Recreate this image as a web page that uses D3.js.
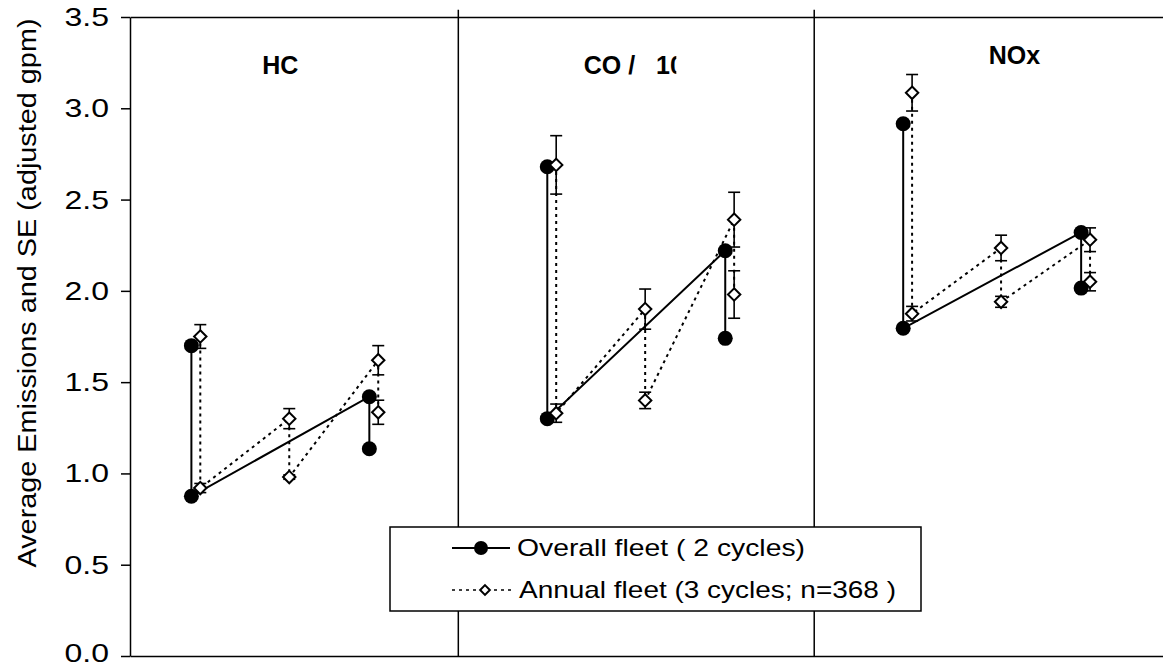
<!DOCTYPE html>
<html>
<head>
<meta charset="utf-8">
<script src="https://cdn.jsdelivr.net/npm/d3@7"></script>
<style>
  body { margin: 0; background: #fff; }
  svg { display: block; font-family: "Liberation Sans", Arial, sans-serif; }
</style>
</head>
<body>
<script>
'use strict';

// panels, and the cycle positions used inside each panel
const panels = ["HC", "CO /   10", "NOx"];
const annualCycles = [1, 2, 3];
const overallCycles = [1, 3];

// overall fleet (2 cycles): upper and lower value at cycle 1 and cycle 3
const overallHigh = [[1.70, 1.42], [2.68, 2.22], [2.915, 2.32]];
const overallLow = [[0.875, 1.135], [1.30, 1.74], [1.795, 2.015]];

// annual fleet (3 cycles; n=368): upper / lower value and SE at each cycle
const annualHigh = [[1.75, 1.30, 1.62], [2.69, 1.90, 2.39], [3.085, 2.235, 2.28]];
const annualHighSE = [[0.065, 0.055, 0.08], [0.16, 0.11, 0.15], [0.10, 0.07, 0.065]];
const annualLow = [[0.92, 0.98, 1.335], [1.33, 1.40, 1.98], [1.875, 1.94, 2.05]];
const annualLowSE = [[0.025, 0.012, 0.066], [0.05, 0.045, 0.13], [0.04, 0.03, 0.05]];

const yTicks = [0, 0.5, 1.0, 1.5, 2.0, 2.5, 3.0, 3.5];
const yTitle = "Average Emissions and SE (adjusted gpm)";
const legendLabels = ["Overall fleet ( 2 cycles)", "Annual fleet (3 cycles; n=368 )"];

// each panel is 4 cycle units wide, overall fleet drawn slightly left
const panelWidth = 4;
const overallShift = -0.1;
const dividers = [panelWidth - 0.1, 2 * panelWidth - 0.1];
// panel name placement in axis units (CO name is cut off in the original)
const titleX = [1.9, 5.31, 10.15];
const titleY = [3.19, 3.19, 3.24];
const titleAnchor = ["middle", "start", "middle"];

window.onload = function() {
  const svg = d3.select('body').append('svg')
    .attr('width', 1163)
    .attr('height', 668);

  const xScale = d3.scaleLinear().domain([0.21, 11.82]).range([130, 1163]);
  const yScale = d3.scaleLinear().domain([0, 3.5]).range([656, 17]);

  drawFrame(svg, xScale, yScale);
  plotOverall(svg, xScale, yScale);
  plotAnnual(svg, xScale, yScale);
  makeLegend(svg);
};

// axes, panel dividers and panel names
function drawFrame(svg, xScale, yScale) {
  // panel dividers
  svg.selectAll('line.divider')
    .data(dividers)
    .enter()
    .append('line')
    .attr('class', 'divider')
    .attr('x1', d => xScale(d))
    .attr('x2', d => xScale(d))
    .attr('y1', yScale(3.54))
    .attr('y2', yScale(0))
    .style('stroke', '#000')
    .style('stroke-width', 1.5);

  // y axis
  let yAxis = svg.append('g')
    .attr('transform', 'translate(' + xScale.range()[0] + ',0)')
    .call(d3.axisLeft(yScale).tickValues(yTicks).tickSize(9).tickSizeOuter(0).tickFormat(d3.format('.1f')));
  yAxis.select('.domain').style('stroke-width', 1.5);
  yAxis.selectAll('.tick line').style('stroke-width', 1.5);
  yAxis.selectAll('.tick text')
    .attr('x', 0)
    .attr('dy', d => d === 0 ? '0.2em' : '0.34em')
    .attr('transform', 'translate(-21,0) scale(1.28,1)')
    .style('font-size', '25px')
    .style('font-family', '"Liberation Sans", Arial, sans-serif')
    .style('fill', '#000');

  // bottom and top frame lines
  [0, 3.5].forEach(v => {
    let g = svg.append('g')
      .attr('transform', 'translate(0,' + yScale(v) + ')')
      .call(d3.axisBottom(xScale).tickValues([]).tickSizeOuter(0));
    g.select('.domain').style('stroke-width', 1.5);
  });

  // y axis title
  svg.append('text')
    .attr('transform', 'translate(36,' + 293 + ') rotate(-90)')
    .attr('text-anchor', 'middle')
    .attr('textLength', 549)
    .attr('lengthAdjust', 'spacingAndGlyphs')
    .style('font-size', '25px')
    .text(yTitle);

  // panel names, the CO one clipped at the right like the original text box
  svg.append('clipPath')
    .attr('id', 'titleClip')
    .append('rect')
    .attr('x', xScale(4))
    .attr('y', 0)
    .attr('width', xScale(6.35) - xScale(4))
    .attr('height', yScale(2.5));

  svg.selectAll('g.panel')
    .data(panels)
    .enter()
    .append('g')
    .attr('class', 'panel')
    .attr('clip-path', (d, i) => i === 1 ? 'url(#titleClip)' : null)
    .append('text')
    .attr('x', (d, i) => xScale(titleX[i]))
    .attr('y', (d, i) => yScale(titleY[i]))
    .attr('text-anchor', (d, i) => titleAnchor[i])
    .style('font-size', '25px')
    .style('font-weight', 'bold')
    .style('white-space', 'pre')
    .text(d => d);
}

function overallPoints(p) {
  let pts = [];
  overallCycles.forEach((c, j) => {
    let x = panelWidth * p + c + overallShift;
    pts.push({ x: x, y: overallHigh[p][j] });
    pts.push({ x: x, y: overallLow[p][j] });
  });
  return pts;
}

function annualPoints(p) {
  let pts = [];
  annualCycles.forEach((c, j) => {
    let x = panelWidth * p + c;
    pts.push({ x: x, y: annualHigh[p][j], se: annualHighSE[p][j] });
    pts.push({ x: x, y: annualLow[p][j], se: annualLowSE[p][j] });
  });
  return pts;
}

// overall fleet: solid zigzag with filled circles
function plotOverall(svg, xScale, yScale) {
  let line = d3.line().x(d => xScale(d.x)).y(d => yScale(d.y));
  panels.forEach((name, p) => {
    let pts = overallPoints(p);
    svg.append('path')
      .datum(pts)
      .attr('d', line)
      .style('fill', 'none')
      .style('stroke', '#000')
      .style('stroke-width', 2);

    svg.selectAll('circle.overall' + p)
      .data(pts)
      .enter()
      .append('circle')
      .attr('class', 'overall' + p)
      .attr('cx', d => xScale(d.x))
      .attr('cy', d => yScale(d.y))
      .attr('r', 7.5)
      .style('fill', '#000');
  });
}

// annual fleet: dotted zigzag, SE bars and open diamonds
function plotAnnual(svg, xScale, yScale) {
  let line = d3.line().x(d => xScale(d.x)).y(d => yScale(d.y));
  let diamond = d3.symbol().type(d3.symbolDiamond2).size(98);
  panels.forEach((name, p) => {
    let pts = annualPoints(p);
    svg.append('path')
      .datum(pts)
      .attr('d', line)
      .style('fill', 'none')
      .style('stroke', '#000')
      .style('stroke-width', 2)
      .style('stroke-dasharray', '3,4');

    let bars = svg.selectAll('g.se' + p)
      .data(pts)
      .enter()
      .append('g')
      .attr('class', 'se' + p)
      .style('stroke', '#000')
      .style('stroke-width', 1.6);
    bars.append('line')
      .attr('x1', d => xScale(d.x)).attr('x2', d => xScale(d.x))
      .attr('y1', d => yScale(d.y + d.se)).attr('y2', d => yScale(d.y - d.se));
    bars.append('line')
      .attr('x1', d => xScale(d.x) - 6).attr('x2', d => xScale(d.x) + 6)
      .attr('y1', d => yScale(d.y + d.se)).attr('y2', d => yScale(d.y + d.se));
    bars.append('line')
      .attr('x1', d => xScale(d.x) - 6).attr('x2', d => xScale(d.x) + 6)
      .attr('y1', d => yScale(d.y - d.se)).attr('y2', d => yScale(d.y - d.se));

    svg.selectAll('path.annual' + p)
      .data(pts)
      .enter()
      .append('path')
      .attr('class', 'annual' + p)
      .attr('d', diamond)
      .attr('transform', d => 'translate(' + xScale(d.x) + ',' + yScale(d.y) + ')')
      .style('fill', '#fff')
      .style('stroke', '#000')
      .style('stroke-width', 2);
  });
}

function makeLegend(svg) {
  svg.append('rect')
    .attr('x', 390)
    .attr('y', 527)
    .attr('width', 531)
    .attr('height', 84)
    .style('fill', '#fff')
    .style('stroke', '#000')
    .style('stroke-width', 1.5);

  // overall fleet sample
  svg.append('line')
    .attr('x1', 452).attr('x2', 510)
    .attr('y1', 548).attr('y2', 548)
    .style('stroke', '#000')
    .style('stroke-width', 2);
  svg.append('circle')
    .attr('cx', 481).attr('cy', 548).attr('r', 7)
    .style('fill', '#000');

  // annual fleet sample
  svg.append('line')
    .attr('x1', 452).attr('x2', 512)
    .attr('y1', 590).attr('y2', 590)
    .style('stroke', '#000')
    .style('stroke-width', 1.5)
    .style('stroke-dasharray', '3,4');
  svg.append('path')
    .attr('d', d3.symbol().type(d3.symbolDiamond2).size(60))
    .attr('transform', 'translate(485,590)')
    .style('fill', '#fff')
    .style('stroke', '#000')
    .style('stroke-width', 2);

  svg.selectAll('text.legend')
    .data(legendLabels)
    .enter()
    .append('text')
    .attr('class', 'legend')
    .attr('x', (d, i) => i === 0 ? 517 : 519)
    .attr('y', (d, i) => i === 0 ? 556 : 598)
    .attr('textLength', (d, i) => i === 0 ? 288 : 377)
    .attr('lengthAdjust', 'spacingAndGlyphs')
    .style('font-size', '24px')
    .style('white-space', 'pre')
    .text(d => d);
}
</script>
</body>
</html>
